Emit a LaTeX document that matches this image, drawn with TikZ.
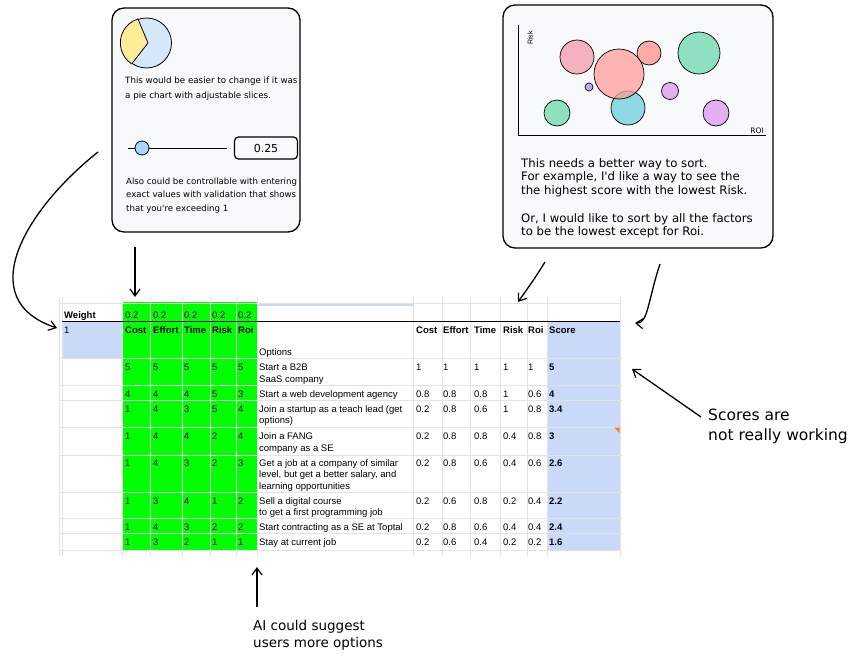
\documentclass[tikz,border=0pt]{standalone}
\usepackage{fontspec}
\setmainfont{Liberation Sans}
\newfontfamily\sketchfont{DejaVu Sans}
\usetikzlibrary{positioning, arrows.meta}

\definecolor{sheetgreen}{HTML}{00FF00}
\definecolor{sheetblue}{HTML}{C9DAF8}
\definecolor{gridgray}{HTML}{E3E3E3}
\definecolor{cardfill}{HTML}{F8F9FA}
\definecolor{pieyellow}{HTML}{FFEC99}
\definecolor{pieblue}{HTML}{D5E9FB}
\definecolor{knobblue}{HTML}{A5D8FF}
\definecolor{bubblepink}{HTML}{F4A6B6}
\definecolor{bubblered}{HTML}{FF9E9A}
\definecolor{bubblegreen}{HTML}{7DDCB7}
\definecolor{bubblecyan}{HTML}{7CD3DE}
\definecolor{bubblepurple}{HTML}{DFA3F0}
\definecolor{bubbleviolet}{HTML}{B39CF5}

% lines of a cell or a note, first baseline on top
\newcommand{\stacklines}[1]{\begin{tabular}[t]{@{}l@{}}#1\end{tabular}}

\tikzset{
	card/.style = {draw, line width = 1.3pt, fill = cardfill, rounded corners = 12pt},
	note/.style = {font = \sketchfont\fontsize{8.7}{15}\selectfont, anchor = base west, inner sep = 0},
	bignote/.style = {font = \sketchfont\fontsize{15.5}{20}\selectfont, anchor = base west, inner sep = 0},
	cell/.style = {font = \fontsize{9.5}{11.6}\selectfont, anchor = base west, inner sep = 0},
	headcell/.style = {cell, font = \bfseries\fontsize{9.5}{11.6}\selectfont},
	bubble/.style = {draw, line width = 0.7pt, fill opacity = 0.85},
	sketcharrow/.style = {-{Straight Barb[length = 7pt, width = 10pt, line width = 1.2pt]}, line width = 1.3pt},
}

\begin{document}
\begin{tikzpicture}[x = 1pt, y = -1pt]

	\useasboundingbox (0, 0) rectangle (859, 661);

	% The pie card

	\draw[card] (112, 8) rectangle (300, 232);
	\fill[pieblue, draw = black, line width = 0.8pt] (146.5, 43) circle (25);
	\filldraw[fill = pieyellow, line width = 0.8pt] (148, 43) -- (138, 19) arc (-107:-237:25) -- cycle;
	\node[note] (pienote) at (125, 84) {\stacklines{This would be easier to change if it was\\a pie chart with adjustable slices.}};

	\draw[line width = 1pt] (128, 148) -- (227, 148);
	\node[circle, draw, fill = knobblue, minimum size = 14pt, inner sep = 0, line width = 0.8pt] (knob) at (142, 148) {};
	\node[draw, rounded corners = 4pt, line width = 1.2pt, minimum width = 63pt, minimum height = 22pt,
		font = \sketchfont\fontsize{11}{13}\selectfont] (value) at (266, 148) {0.25};
	\node[note, font = \sketchfont\fontsize{8.6}{13.7}\selectfont] (slidernote) at (126, 184)
		{\stacklines{Also could be controllable with entering\\exact values with validation that shows\\that you're exceeding 1}};

	% The bubble card

	\draw[card] (503, 5) rectangle (773, 248);
	\draw[line width = 0.8pt] (518, 25) -- (518, 135) -- (766, 135);
	\node[rotate = 90, font = \fontsize{7}{8}\selectfont, inner sep = 0] (risklabel) at (530, 38) {Risk};
	\node[font = \sketchfont\fontsize{7.5}{9}\selectfont, inner sep = 0] (roilabel) at (757, 131) {ROI};

	\begin{scope}[bubble]
		\filldraw[fill = bubblepink] (577, 57) circle (17);
		\filldraw[fill = bubblered] (649, 53) circle (12);
		\filldraw[fill = bubblegreen] (699, 53) circle (21);
		\filldraw[fill = bubbleviolet] (589, 87) circle (4);
		\filldraw[fill = bubblepurple] (670, 91) circle (8.5);
		\filldraw[fill = bubblegreen] (557, 113) circle (13);
		\filldraw[fill = bubblepurple] (716, 113) circle (13);
		\filldraw[fill = bubblecyan] (628, 108) circle (17);
		\filldraw[fill = bubblered, fill opacity = 0.75] (619, 74) circle (25);
	\end{scope}

	\begin{scope}[every node/.style = {note, font = \sketchfont\fontsize{11.7}{13.8}\selectfont}]
		\node (sortnote) at (521, 167) {\stacklines{This needs a better way to sort.\\For example, I'd like a way to see the\\the highest score with the lowest Risk.}};
		\node (factornote) at (521, 222) {\stacklines{Or, I would like to sort by all the factors\\to be the lowest except for Roi.}};
	\end{scope}

	% The sheet

	\fill[sheetgreen] (122, 302) rectangle (257, 550);
	\fill[sheetblue] (62, 321) rectangle (122, 358);
	\fill[sheetblue] (547, 321) rectangle (620, 550);
	\fill[sheetblue] (257, 303) rectangle (413, 306);

	\begin{scope}[gridgray, line width = 0.6pt]
		\foreach \gx in {59, 62, 122, 150, 182, 210, 236, 257, 413, 442, 470, 500, 527, 547, 620}
			\draw (\gx, 297) -- (\gx, 556);
		\foreach \gy in {303, 358, 385, 400, 427, 455, 492, 518, 533, 550}
			\draw (59, \gy) -- (622, \gy);
	\end{scope}
	\draw[line width = 1pt] (62, 321) -- (620, 321);
	\fill[orange] (614, 427.5) -- (619.5, 427.5) -- (619.5, 433) -- cycle;

	\node[headcell] (weight) at (64, 318) {Weight};
	\foreach \wx [count = \i] in {125, 153, 184, 212, 238}
		\node[cell] (w-\i) at (\wx, 318) {0.2};

	\node[cell] (total) at (64, 333) {1};
	\node[cell] (options) at (259, 355) {Options};
	\foreach \hx/\hname [count = \i] in {125/Cost, 153/Effort, 184/Time, 212/Risk, 238/Roi}
		\node[headcell] (h-\i) at (\hx, 333) {\hname};
	\foreach \hx/\hname [count = \i] in {416/Cost, 443/Effort, 474/Time, 503/Risk, 528/Roi, 549/Score}
		\node[headcell] (n-\i) at (\hx, 333) {\hname};

	\foreach \ry/\gcost/\geffort/\gtime/\grisk/\groi/\opt/\ncost/\neffort/\ntime/\nrisk/\nroi/\score [count = \i] in {
		370.5/5/5/5/5/5/{Start a B2B\\SaaS company}/1/1/1/1/1/5,
		397.5/4/4/4/5/3/{Start a web development agency}/0.8/0.8/0.8/1/0.6/4,
		412/1/4/3/5/4/{Join a startup as a teach lead (get\\options)}/0.2/0.8/0.6/1/0.8/3.4,
		439.5/1/4/4/2/4/{Join a FANG\\company as a SE}/0.2/0.8/0.8/0.4/0.8/3,
		466/1/4/3/2/3/{Get a job at a company of similar\\level, but get a better salary, and\\learning opportunities}/0.2/0.8/0.6/0.4/0.6/2.6,
		504/1/3/4/1/2/{Sell a digital course\\to get a first programming job}/0.2/0.6/0.8/0.2/0.4/2.2,
		530.5/1/4/3/2/2/{Start contracting as a SE at Toptal}/0.2/0.8/0.6/0.4/0.4/2.4,
		545.5/1/3/2/1/1/{Stay at current job}/0.2/0.6/0.4/0.2/0.2/1.6}
	{
		\node[cell] (r\i-gcost) at (125, \ry) {\gcost};
		\node[cell] (r\i-geffort) at (153, \ry) {\geffort};
		\node[cell] (r\i-gtime) at (184, \ry) {\gtime};
		\node[cell] (r\i-grisk) at (212, \ry) {\grisk};
		\node[cell] (r\i-groi) at (238, \ry) {\groi};
		\node[cell] (r\i-opt) at (259, \ry) {\stacklines{\opt}};
		\node[cell] (r\i-ncost) at (416, \ry) {\ncost};
		\node[cell] (r\i-neffort) at (443, \ry) {\neffort};
		\node[cell] (r\i-ntime) at (474, \ry) {\ntime};
		\node[cell] (r\i-nrisk) at (503, \ry) {\nrisk};
		\node[cell] (r\i-nroi) at (528, \ry) {\nroi};
		\node[headcell] (r\i-score) at (549, \ry) {\score};
	}

	% Remarks

	\node[bignote] (scorenote) at (708, 420) {\stacklines{Scores are\\not really working}};
	\node[bignote, font = \sketchfont\fontsize{13.5}{17}\selectfont] (ainote) at (253, 630) {\stacklines{AI could suggest\\users more options}};

	% Arrows

	\coordinate (pietail) at (98, 152);
	\coordinate (piehead) at (57, 328);
	\coordinate (slidertail) at (135, 247);
	\coordinate (sliderhead) at (135, 297);
	\coordinate (sorttail) at (545, 262);
	\coordinate (sorthead) at (518, 302);
	\coordinate (factortail) at (660, 264);
	\coordinate (factorhead) at (635, 323);
	\coordinate (scoretail) at (701, 417);
	\coordinate (scorehead) at (632, 369);
	\coordinate (aitail) at (257, 607);
	\coordinate (aihead) at (257, 567);

	\begin{scope}[sketcharrow]
		\draw (pietail) .. controls (25, 210) and (-28, 300) .. (piehead);
		\draw (slidertail) -- (sliderhead);
		\draw (sorttail) .. controls (535, 278) .. (sorthead);
		\draw (factortail) .. controls (648, 300) and (648, 324) .. (factorhead);
		\draw (scoretail) -- (scorehead);
		\draw (aitail) -- (aihead);
	\end{scope}

\end{tikzpicture}
\end{document}
